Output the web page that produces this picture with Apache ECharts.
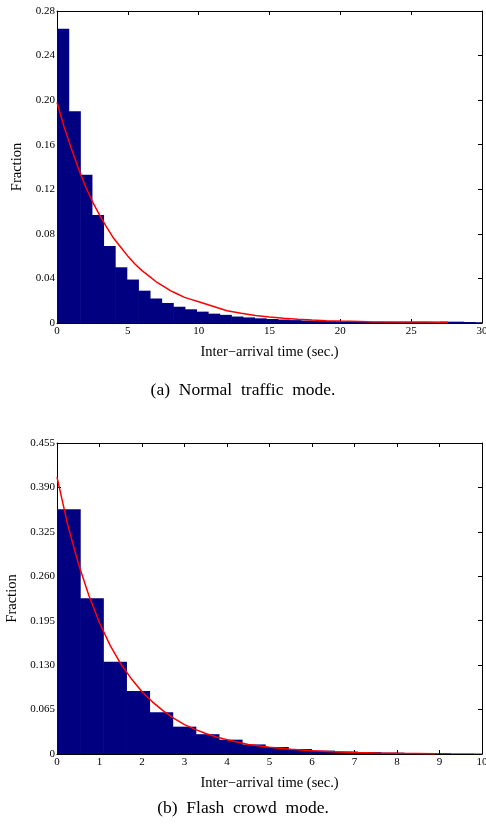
<!DOCTYPE html>
<html>
<head>
<meta charset="utf-8">
<script src="https://cdn.jsdelivr.net/npm/echarts@6/dist/echarts.min.js"></script>
<style>
  html, body { margin: 0; padding: 0; background: #fff; }
  #main { width: 486px; height: 837px; }
</style>
</head>
<body>
<div id="main"></div>
<script>
// (a) normal traffic mode: histogram of inter-arrival times + fitted curve
var normalBinWidth = 0.82;
var normalFractions = [0.264, 0.190, 0.133, 0.097, 0.069, 0.050, 0.039, 0.029, 0.022, 0.018,
  0.0146, 0.0123, 0.0102, 0.0084, 0.0073, 0.0058, 0.0050, 0.0042, 0.0036, 0.0031,
  0.0026, 0.0022, 0.0019, 0.0017, 0.0015, 0.0013, 0.0012, 0.0011, 0.0010, 0.0009,
  0.0008, 0.0008, 0.0007, 0.0012, 0.0012, 0.0009, 0.0007];
var normalFitX = [0, 0.5, 1, 1.5, 2, 2.5, 3, 3.5, 4, 4.5, 5, 5.5, 6, 6.5, 7, 7.5, 8, 8.5, 9, 9.5,
  10, 11, 12, 13, 14, 15, 16, 17, 18, 19, 20, 22, 24, 26, 27.6];
var normalFitY = [0.198, 0.176, 0.157, 0.139, 0.123, 0.109, 0.097, 0.086, 0.076, 0.068,
  0.060, 0.053, 0.047, 0.042, 0.037, 0.033, 0.029, 0.026, 0.023, 0.021,
  0.019, 0.015, 0.011, 0.0088, 0.0068, 0.0054, 0.0043, 0.0034, 0.0027, 0.0021,
  0.0017, 0.0012, 0.0009, 0.0008, 0.0007];

// (b) flash crowd mode
var flashBinWidth = 0.544;
var flashFractions = [0.358, 0.228, 0.135, 0.092, 0.061, 0.040, 0.029, 0.021, 0.014, 0.0102,
  0.0073, 0.0049, 0.0036, 0.0027, 0.0020, 0.0015, 0.0011, 0.0008, 0.0006];
var flashFitX = [0, 0.25, 0.5, 0.75, 1, 1.25, 1.5, 1.75, 2, 2.25, 2.5, 2.75, 3, 3.25, 3.5, 3.75,
  4, 4.5, 5, 5.5, 6, 6.5, 7, 7.5, 8, 8.9];
var flashFitY = [0.405, 0.336, 0.279, 0.232, 0.192, 0.159, 0.132, 0.110, 0.091, 0.076,
  0.063, 0.052, 0.043, 0.036, 0.030, 0.025, 0.021, 0.014, 0.0098, 0.0068,
  0.0046, 0.0032, 0.0022, 0.0015, 0.0010, 0.0005];

var serif = 'Liberation Serif';

function histData(width, fractions) {
  return fractions.map(function (v, i) { return [i * width, (i + 1) * width, v]; });
}
function lineData(xs, ys) {
  return xs.map(function (x, i) { return [x, ys[i]]; });
}
function renderBars(params, api) {
  var p0 = api.coord([api.value(0), api.value(2)]);
  var p1 = api.coord([api.value(1), 0]);
  return {
    type: 'rect',
    shape: { x: p0[0], y: p0[1], width: p1[0] - p0[0] + 0.6, height: p1[1] - p0[1] },
    style: { fill: '#000080' }
  };
}

var axisLine = { show: true, onZero: false, lineStyle: { color: '#000', width: 1 } };
var axisTick = { show: true, inside: true, length: 4, lineStyle: { color: '#000' } };

function xAxes(grid, max, interval) {
  return [{
    type: 'value', gridIndex: grid, position: 'bottom', min: 0, max: max, interval: interval,
    name: 'Inter\u2212arrival time (sec.)', nameLocation: 'middle', nameGap: 22,
    nameTextStyle: { fontFamily: serif, fontSize: 14.5, color: '#000' },
    axisLine: axisLine, axisTick: axisTick,
    axisLabel: { fontFamily: serif, fontSize: 11, color: '#000', margin: 3 },
    splitLine: { show: false }
  }, {
    type: 'value', gridIndex: grid, position: 'top', min: 0, max: max, interval: interval,
    axisLine: axisLine, axisTick: axisTick,
    axisLabel: { show: false }, splitLine: { show: false }
  }];
}
function yAxes(grid, max, interval, digits, gap) {
  return [{
    type: 'value', gridIndex: grid, position: 'left', min: 0, max: max, interval: interval,
    name: 'Fraction', nameLocation: 'middle', nameGap: gap, nameRotate: 90,
    nameTextStyle: { fontFamily: serif, fontSize: 14.5, color: '#000' },
    axisLine: axisLine, axisTick: axisTick,
    axisLabel: {
      fontFamily: serif, fontSize: 11, color: '#000', margin: 2,
      formatter: function (v) { return v === 0 ? '0' : v.toFixed(digits); }
    },
    splitLine: { show: false }
  }, {
    type: 'value', gridIndex: grid, position: 'right', min: 0, max: max, interval: interval,
    axisLine: axisLine, axisTick: axisTick,
    axisLabel: { show: false }, splitLine: { show: false }
  }];
}

var myChart = echarts.init(document.getElementById('main'));
var option = {
  animation: false,
  backgroundColor: '#fff',
  grid: [
    { left: 57, top: 11, width: 425, height: 312, outerBoundsMode: 'none' },
    { left: 57, top: 443, width: 425, height: 311, outerBoundsMode: 'none' }
  ],
  xAxis: xAxes(0, 30, 5).concat(xAxes(1, 10, 1)),
  yAxis: yAxes(0, 0.28, 0.04, 2, 32).concat(yAxes(1, 0.455, 0.065, 3, 37)),
  series: [
    {
      type: 'custom', xAxisIndex: 0, yAxisIndex: 0, clip: true,
      renderItem: renderBars, encode: { x: [0, 1], y: 2 },
      data: histData(normalBinWidth, normalFractions)
    },
    {
      type: 'line', xAxisIndex: 0, yAxisIndex: 0, showSymbol: false, smooth: false,
      lineStyle: { color: '#ff0000', width: 1.5 },
      data: lineData(normalFitX, normalFitY), z: 5
    },
    {
      type: 'custom', xAxisIndex: 2, yAxisIndex: 2, clip: true,
      renderItem: renderBars, encode: { x: [0, 1], y: 2 },
      data: histData(flashBinWidth, flashFractions)
    },
    {
      type: 'line', xAxisIndex: 2, yAxisIndex: 2, showSymbol: false, smooth: false,
      lineStyle: { color: '#ff0000', width: 1.5 },
      data: lineData(flashFitX, flashFitY), z: 5
    }
  ],
  graphic: [
    {
      type: 'text', left: 'center', top: 381,
      style: { text: '(a)  Normal  traffic  mode.', font: '17.5px "Liberation Serif"', fill: '#000' }
    },
    {
      type: 'text', left: 'center', top: 799,
      style: { text: '(b)  Flash  crowd  mode.', font: '17.5px "Liberation Serif"', fill: '#000' }
    }
  ]
};
myChart.setOption(option);
</script>
</body>
</html>
